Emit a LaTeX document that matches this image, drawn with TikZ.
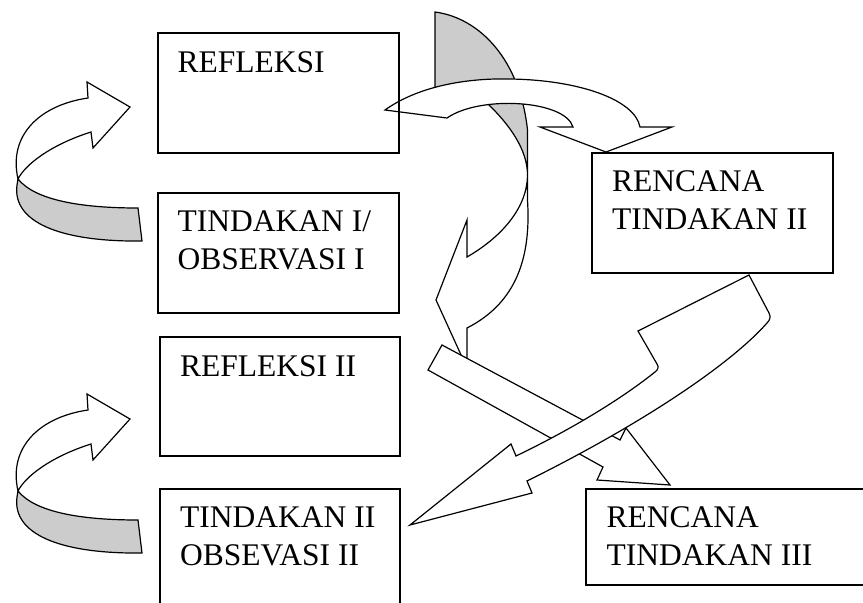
\documentclass[tikz,border=0pt]{standalone}
\usepackage{fontspec}
\setmainfont{Liberation Serif}
\begin{document}
\begin{tikzpicture}[x=1pt,y=-1pt,
  box/.style={draw=black,line width=1.7pt,anchor=north west,inner sep=0pt},
  lbl/.style={anchor=base west,inner sep=0pt,font=\fontsize{31.5}{37.6}\selectfont},
  arr/.style={draw=black,line width=1.2pt,line join=miter,fill=white},
  back/.style={draw=black,line width=1.2pt,line join=miter,fill=black!20}]
\useasboundingbox (0,0) rectangle (863,603);
% left curved arrows
\foreach \dy in {0,312}{
\begin{scope}[shift={(0,\dy)}]
\path[back] (18,179) .. controls (35,200) and (80,208) .. (138,208) -- (142,241)
  .. controls (60,242) and (12,222) .. (17,185) -- cycle;
\path[arr] (18,179) .. controls (8,135) and (40,105) .. (88,98) -- (87,82) -- (130,107)
  -- (93,148) -- (91,132) .. controls (50,145) and (25,165) .. cycle;
\end{scope}}
% arrow A (down-curving, grey back)
\path[back] (435,12) .. controls (480,18) and (520,60) .. (527.5,130) -- (527.5,175)
  .. controls (527.5,150) and (510,125) .. (487,103) .. controls (478,95) and (460,90) .. (435,92) -- cycle;
\path[arr] (527.5,175) .. controls (527.5,205) and (505,235) .. (467,257) -- (467,220)
  -- (436,300) -- (467,368) -- (467,328) .. controls (518,302) and (531,255) .. (527.5,200) -- cycle;
% arrow D (top, to Rencana Tindakan II)
\path[arr] (385,110) .. controls (420,85) and (470,78) .. (510,79)
  .. controls (580,80) and (635,100) .. (640,127) -- (672,127) -- (606,152) -- (540,127) -- (573,127)
  .. controls (565,100) and (480,95) .. (447,118) -- cycle;
% arrow C (straight, to Rencana Tindakan III)
\path[arr] (442,345) -- (620,440) -- (626,428) -- (670,485) -- (597,480) -- (603,467) -- (428,370) -- cycle;
% arrow B (curved, to Tindakan II)
\path[arr] (410,525) -- (511,444) -- (516,456) .. controls (570,430) and (620,400) .. (655,372)
  .. controls (658,370) and (659,367) .. (657,364) -- (638,331) -- (749,275) -- (769,313)
  .. controls (771,317) and (770,320) .. (767,323) .. controls (730,365) and (640,425) .. (527,481)
  -- (532,493) -- cycle;
% boxes
\node[box,minimum width=241pt,minimum height=120pt] (r1) at (157,32) {};
\node[box,minimum width=241pt,minimum height=120pt] (t1) at (157,192) {};
\node[box,minimum width=240pt,minimum height=119pt] (r2) at (159,336) {};
\node[box,minimum width=240pt,minimum height=130pt] (t2) at (159,488) {};
\node[box,minimum width=241pt,minimum height=120pt] (p2) at (591,152) {};
\node[box,minimum width=290pt,minimum height=96pt] (p3) at (585,488) {};
% labels
\node[lbl] (r1a) at (177.5,72.7) {REFLEKSI};
\node[lbl] (t1a) at (177.5,231.3) {TINDAKAN I/};
\node[lbl] (t1b) at (177.5,269.3) {OBSERVASI I};
\node[lbl] (r2a) at (180,376.7) {REFLEKSI II};
\node[lbl] (t2a) at (180,527.5) {TINDAKAN II};
\node[lbl] (t2b) at (180,565.3) {OBSEVASI II};
\node[lbl] (p2a) at (612,191.7) {RENCANA};
\node[lbl] (p2b) at (612,229.8) {TINDAKAN II};
\node[lbl] (p3a) at (606.5,527) {RENCANA};
\node[lbl] (p3b) at (606.5,565) {TINDAKAN III};
\end{tikzpicture}
\end{document}
